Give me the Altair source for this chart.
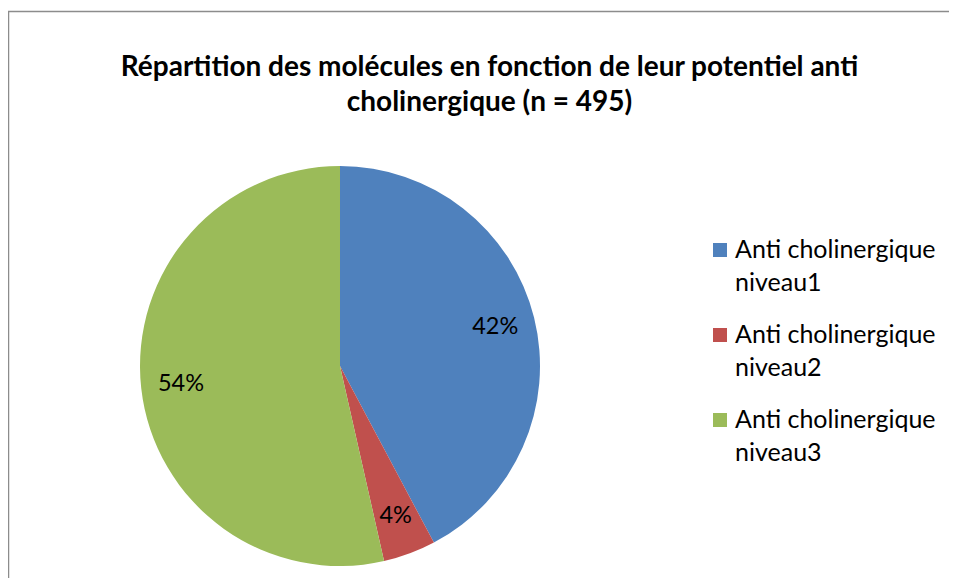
import altair as alt
import pandas as pd

categories = ["Anti cholinergique niveau1", "Anti cholinergique niveau2", "Anti cholinergique niveau3"]
legend_line1 = ["Anti cholinergique", "Anti cholinergique", "Anti cholinergique"]
legend_line2 = ["niveau1", "niveau2", "niveau3"]
counts = [209, 21, 265]
colors = ["#4F81BD", "#C0504D", "#9BBB59"]
title_lines = ["Répartition des molécules en fonction de leur potentiel anti", "cholinergique (n = 495)"]

df = pd.DataFrame({
    "category": categories,
    "line1": legend_line1,
    "line2": legend_line2,
    "count": counts,
    "order": list(range(len(categories))),
})

FONT = "Lato"
W, H = 941, 450
CX, CY, R = 332, 238, 200

base = alt.Chart(df)
color = alt.Color("category:N", scale=alt.Scale(domain=categories, range=colors), legend=None)

pie = base.mark_arc(outerRadius=R, stroke=None).encode(
    theta=alt.Theta("count:Q", stack=True),
    order=alt.Order("order:Q"),
    color=color,
    x=alt.value(CX),
    y=alt.value(CY),
)

labels = base.transform_joinaggregate(total="sum(count)").transform_calculate(
    pct="datum.count / datum.total"
).mark_text(radius=160, font=FONT, fontSize=23.5, color="black").encode(
    theta=alt.Theta("count:Q", stack=True),
    order=alt.Order("order:Q"),
    text=alt.Text("pct:Q", format=".0%"),
    x=alt.value(CX),
    y=alt.value(CY),
)

ysc = alt.Scale(type="point", domain=categories, range=[122, 292], padding=0)
leg_sym = base.mark_point(shape="square", filled=True, size=196, opacity=1).encode(
    x=alt.value(712),
    y=alt.Y("category:N", scale=ysc, axis=None),
    color=color,
)
leg_t1 = base.mark_text(align="left", baseline="middle", font=FONT, fontSize=25, color="black").encode(
    x=alt.value(727),
    y=alt.Y("category:N", scale=ysc, axis=None),
    text="line1:N",
)
leg_t2 = base.mark_text(align="left", baseline="middle", font=FONT, fontSize=25, color="black", dy=33).encode(
    x=alt.value(727),
    y=alt.Y("category:N", scale=ysc, axis=None),
    text="line2:N",
)

frame_left = alt.Chart(pd.DataFrame({"k": [0]})).mark_rule(color="#8c8c8c", strokeWidth=1.5).encode(
    x=alt.value(0.5), y=alt.value(-117), y2=alt.value(H)
)
frame_top = alt.Chart(pd.DataFrame({"k": [0]})).mark_rule(color="#8c8c8c", strokeWidth=1.5).encode(
    x=alt.value(0), x2=alt.value(W + 20), y=alt.value(-116.5)
)

chart = alt.layer(frame_left, frame_top, pie, labels, leg_sym, leg_t1, leg_t2).properties(
    width=W,
    height=H,
    autosize=alt.AutoSizeParams(type="none"),
    padding={"left": 0, "top": 120, "right": 0, "bottom": 0},
    title=alt.TitleParams(
        text=title_lines,
        font=FONT,
        fontSize=28,
        fontWeight="bold",
        color="black",
        anchor="middle",
        dx=11,
        dy=107,
        offset=0,
        lineHeight=35,
    ),
).configure_view(stroke=None)

chart.save("out.html", embed_options={"renderer": "svg", "actions": False})
